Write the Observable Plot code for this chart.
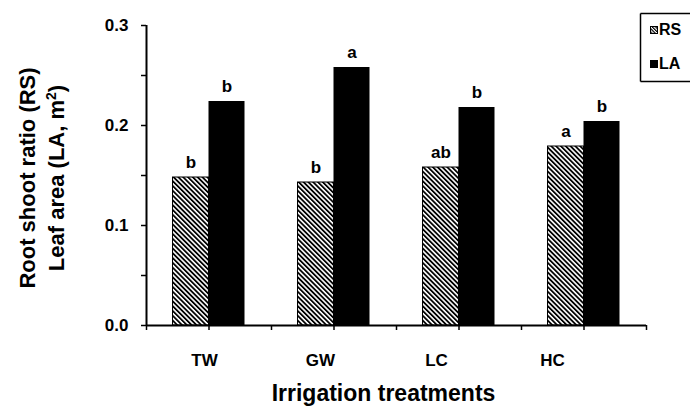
<!DOCTYPE html>
<html><head><meta charset="utf-8">
<script src="https://cdn.jsdelivr.net/npm/d3@7"></script>
<script src="https://cdn.jsdelivr.net/npm/@observablehq/plot@0.6"></script>
<style>
html,body{margin:0;padding:0;background:#fff;overflow:hidden;font-family:"Liberation Sans",Arial,sans-serif;}
#wrap svg{display:block;}
</style></head><body><div id="wrap"></div>
<script>
const categories = ["TW", "GW", "LC", "HC"];
const rsValues = [0.148, 0.143, 0.158, 0.179];
const laValues = [0.224, 0.258, 0.218, 0.204];
const rsLetters = ["b", "b", "ab", "a"];
const laLetters = ["b", "a", "b", "b"];
const yTicks = [0, 0.05, 0.1, 0.15, 0.2, 0.25, 0.3];
const seriesNames = ["RS", "LA"];

const barW = 0.288;          // bar width as a fraction of a category
const labelStretch = 0.928;  // category labels drift left as in the original
const font = "Liberation Sans, Arial, sans-serif";

const rsRows = categories.map((c, i) => ({cat: c, i, value: rsValues[i], letter: rsLetters[i]}));
const laRows = categories.map((c, i) => ({cat: c, i, value: laValues[i], letter: laLetters[i]}));

const chart = Plot.plot({
  width: 690, height: 410,
  marginLeft: 146, marginRight: 44, marginTop: 25, marginBottom: 85,
  x: {domain: [0, categories.length], axis: null},
  y: {domain: [0, 0.3], axis: null},
  style: {fontFamily: font, background: "#fff", color: "#000"},
  marks: [
    Plot.rectY(rsRows, {x1: d => d.i + 0.5 - barW, x2: d => d.i + 0.5, y1: 0, y2: "value", fill: "url(#hatchRS)", stroke: "#000", strokeWidth: 1}),
    Plot.rectY(laRows, {x1: d => d.i + 0.5, x2: d => d.i + 0.5 + barW, y1: 0, y2: "value", fill: "#000"}),
    Plot.text(rsRows, {x: d => d.i + 0.5 - barW / 2, y: "value", text: "letter", lineAnchor: "bottom", dy: -10, fontSize: 17, fontWeight: "bold"}),
    Plot.text(laRows, {x: d => d.i + 0.5 + barW / 2, y: "value", text: "letter", lineAnchor: "bottom", dy: -10, fontSize: 17, fontWeight: "bold"}),
    Plot.axisY({ticks: yTicks, label: null, tickSize: 5, tickPadding: 13, strokeWidth: 1.5, fontSize: 17, fontWeight: "bold",
      tickFormat: d => (Math.round(d * 100) % 10 === 0 ? d.toFixed(1) : "")}),
    Plot.axisX({ticks: d3.range(0, categories.length + 0.01, 0.5), label: null, tickSize: 5, strokeWidth: 1.5, tickFormat: () => ""}),
    Plot.ruleX([0], {y1: 0, y2: 0.3, strokeWidth: 2}),
    Plot.ruleY([0], {x1: 0, x2: categories.length, strokeWidth: 2}),
    Plot.text(categories, {x: (d, i) => (i + 0.5) * labelStretch, y: 0, dy: 35, text: d => d, fontSize: 17, fontWeight: "bold"}),
    Plot.text(["Irrigation treatments"], {frameAnchor: "bottom", dx: -13, dy: 75, text: d => d, fontSize: 23, fontWeight: "bold"})
  ]
});

const svg = d3.select(chart);
svg.insert("defs", ":first-child").html(
  `<pattern id="hatchRS" patternUnits="userSpaceOnUse" width="3.4" height="3.4" patternTransform="rotate(-45)">
     <rect width="3.4" height="3.4" fill="#fff"/>
     <rect width="1.8" height="3.4" fill="#000"/>
   </pattern>
   <pattern id="hatchLeg" patternUnits="userSpaceOnUse" width="2.4" height="2.4" patternTransform="rotate(-45)">
     <rect width="2.4" height="2.4" fill="#fff"/>
     <rect width="1.2" height="2.4" fill="#000"/>
   </pattern>`);

// y-axis title (two lines)
const g = svg.append("g").attr("font-family", font).attr("font-weight", "bold").attr("font-size", 22).attr("text-anchor", "middle");
g.append("text").attr("transform", "translate(35,178) rotate(-90)").text("Root shoot ratio (RS)");
const t2 = g.append("text").attr("transform", "translate(64,178) rotate(-90)");
t2.append("tspan").text("Leaf area (LA, m");
t2.append("tspan").attr("font-size", 14).attr("dy", -8).text("2");
t2.append("tspan").attr("dy", 8).text(")");

// legend: box open on the right (it runs off the edge in the original)
const lg = svg.append("g").attr("font-family", font).attr("font-weight", "bold").attr("font-size", 16).attr("text-anchor", "start");
lg.append("line").attr("x1", 640.5).attr("x2", 690).attr("y1", 13.5).attr("y2", 13.5).attr("stroke", "#000").attr("stroke-width", 1.5);
lg.append("line").attr("x1", 640.5).attr("x2", 640.5).attr("y1", 13.5).attr("y2", 81.5).attr("stroke", "#000").attr("stroke-width", 1.5);
lg.append("line").attr("x1", 640.5).attr("x2", 690).attr("y1", 81.5).attr("y2", 81.5).attr("stroke", "#000").attr("stroke-width", 1.5);
seriesNames.forEach((s, k) => {
  const yb = k === 0 ? 35 : 69;
  lg.append("rect").attr("x", 650.5).attr("y", yb - 8.5).attr("width", 7).attr("height", 7)
    .attr("fill", s === "RS" ? "url(#hatchLeg)" : "#000").attr("stroke", "#000").attr("stroke-width", 1);
  lg.append("text").attr("x", 659).attr("y", yb).text(s);
});

document.getElementById("wrap").appendChild(chart);
</script>
</body></html>
